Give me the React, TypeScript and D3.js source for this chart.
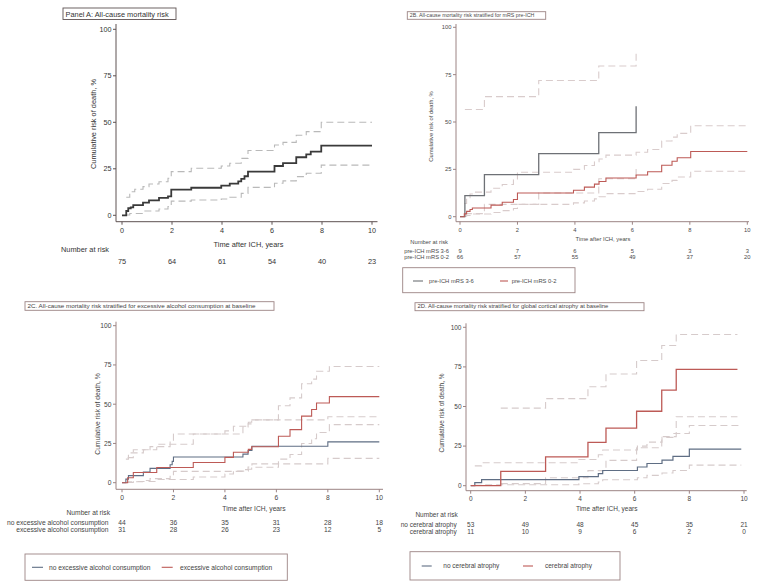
import React from 'react';
import * as d3 from 'd3';

type Pt = [number, number];

const xTicks = [0, 2, 4, 6, 8, 10];
const yTicks = [0, 25, 50, 75, 100];
const riskTimes = [0, 2, 4, 6, 8, 10];

// ---------- Panel A ----------
const titleA = 'Panel A: All-cause mortality risk';
const aMain: Pt[] = [[0, 0], [0.17, 2.3], [0.25, 3.8], [0.35, 4.3], [0.45, 5.5], [0.84, 6.8], [1.08, 8.0], [1.48, 9.4], [1.84, 10.2], [1.97, 13.8], [2.77, 14.8], [3.97, 16.0], [4.31, 17.0], [4.65, 18.2], [4.77, 19.6], [4.9, 21.0], [5.04, 23.5], [6.1, 26.5], [6.44, 28.0], [6.97, 31.2], [7.37, 32.8], [7.55, 34.2], [7.97, 37.5], [10, 37.5]];
const aUpper: Pt[] = [[0.17, 9.7], [0.31, 12.7], [0.51, 14.0], [0.84, 15.4], [1.08, 16.8], [1.48, 18.0], [1.84, 19.9], [1.97, 23.5], [2.77, 25.3], [3.97, 26.5], [4.31, 28.0], [4.77, 30.6], [5.04, 34.8], [6.1, 37.8], [6.44, 39.2], [6.97, 43.0], [7.37, 45.0], [7.97, 50.0], [10, 50.0]];
const aLower: Pt[] = [[0.17, 0.2], [0.31, 1.0], [0.84, 2.3], [1.48, 3.4], [1.84, 4.7], [1.97, 7.6], [2.77, 8.2], [3.97, 8.8], [4.31, 9.7], [4.77, 11.8], [5.04, 15.0], [6.1, 17.2], [6.44, 18.5], [6.97, 20.8], [7.37, 22.6], [7.97, 27.0], [10, 27.0]];
const aRiskLabels = [''];
const aRisk = [[75, 64, 61, 54, 40, 23]];

// ---------- Panel B ----------
const titleB = '2B. All-cause mortality risk stratified for mRS pre-ICH';
const bLabels = ['pre-ICH mRS 3-6', 'pre-ICH mRS 0-2'];
const bHigh: Pt[] = [[0, 0], [0.17, 11.1], [0.85, 22.2], [2.74, 33.3], [4.83, 44.4], [6.13, 58.3]];
const bHighUpper: Pt[] = [[0.17, 56.6], [0.85, 63.4], [2.74, 71.9], [4.83, 79.6], [6.13, 87.5]];
const bHighLower: Pt[] = [[0.17, 1.6], [0.85, 6.5], [2.74, 12.5], [4.83, 20.0], [6.13, 27.0]];
const bLow: Pt[] = [[0, 0], [0.15, 1.5], [0.23, 2.8], [0.35, 3.8], [0.43, 4.6], [1.08, 6.1], [1.47, 7.6], [1.86, 9.1], [2.0, 12.5], [3.95, 14.0], [4.33, 15.6], [4.68, 17.2], [4.84, 18.6], [5.08, 20.4], [6.13, 22.0], [6.53, 23.7], [7.02, 27.2], [7.38, 29.3], [7.56, 31.1], [8.03, 34.4], [10, 34.4]];
const bLowUpper: Pt[] = [[0.15, 7.0], [0.23, 10.0], [0.35, 12.0], [0.43, 13.0], [1.08, 15.0], [1.47, 17.0], [1.86, 19.5], [2.0, 23.5], [3.95, 25.0], [4.33, 27.0], [4.68, 29.0], [4.84, 30.5], [5.08, 32.5], [6.13, 34.0], [6.53, 35.5], [7.02, 40.0], [7.38, 42.0], [7.56, 44.0], [8.03, 48.0], [10, 48.0]];
const bLowLower: Pt[] = [[0.15, 0.2], [0.23, 0.6], [0.35, 1.0], [0.43, 1.4], [1.08, 2.2], [1.47, 3.2], [1.86, 4.3], [2.0, 6.5], [3.95, 7.3], [4.33, 8.3], [4.68, 9.4], [4.84, 10.5], [5.08, 12.2], [6.13, 13.3], [6.53, 14.5], [7.02, 17.5], [7.38, 19.2], [7.56, 21.0], [8.03, 24.0], [10, 24.0]];
const bRisk = [[9, 7, 6, 5, 3, 3], [66, 57, 55, 49, 37, 20]];

// ---------- Panel C ----------
const titleC = '2C. All-cause mortality risk stratified for excessive alcohol consumption at baseline';
const cLabels = ['no excessive alcohol consumption', 'excessive alcohol consumption'];
const cNo: Pt[] = [[0, 0], [0.15, 2.3], [0.25, 4.5], [0.83, 6.8], [1.09, 9.1], [1.87, 11.4], [1.95, 13.6], [2.0, 16.4], [4.7, 18.2], [4.9, 20.5], [5.05, 23.2], [8.0, 26.0], [10, 26.0]];
const cNoUpper: Pt[] = [[0.15, 15.0], [0.25, 19.0], [0.83, 21.0], [1.09, 23.0], [1.87, 26.5], [2.0, 31.0], [4.7, 35.5], [4.9, 37.5], [5.05, 40.0], [8.0, 42.0], [10, 42.0]];
const cNoLower: Pt[] = [[0.15, 0.1], [0.25, 0.6], [0.83, 1.4], [1.09, 2.6], [1.87, 4.0], [2.0, 7.2], [4.7, 8.3], [4.9, 10.0], [5.05, 12.0], [8.0, 15.5], [10, 15.5]];
const cYes: Pt[] = [[0, 0], [0.22, 3.2], [0.44, 6.5], [1.35, 9.7], [2.77, 12.9], [4.0, 16.1], [4.33, 19.4], [4.91, 21.2], [5.04, 22.9], [6.08, 29.6], [6.53, 33.8], [6.98, 42.4], [7.37, 46.6], [7.56, 50.8], [8.06, 54.8], [10, 54.8]];
const cYesUpper: Pt[] = [[0.22, 16.0], [0.44, 21.0], [1.35, 24.5], [2.77, 31.0], [4.0, 33.0], [4.33, 36.0], [4.91, 38.5], [5.04, 40.0], [6.08, 49.0], [6.53, 54.0], [6.98, 63.0], [7.37, 66.0], [7.56, 71.0], [8.06, 74.0], [10, 74.0]];
const cYesLower: Pt[] = [[0.22, 0.1], [0.44, 0.8], [1.35, 2.0], [2.77, 3.6], [4.0, 5.5], [4.33, 7.4], [4.91, 8.6], [5.04, 9.8], [6.08, 15.0], [6.53, 18.0], [6.98, 25.0], [7.37, 28.0], [7.56, 32.0], [8.06, 37.0], [10, 37.0]];
const cRisk = [[44, 36, 35, 31, 28, 18], [31, 28, 26, 23, 12, 5]];

// ---------- Panel D ----------
const titleD = '2D. All-cause mortality risk stratified for global cortical atrophy at baseline';
const dLabels = ['no cerebral atrophy', 'cerebral atrophy'];
const dNo: Pt[] = [[0, 0], [0.15, 1.9], [0.4, 3.8], [3.96, 5.7], [4.67, 7.6], [4.83, 9.6], [6.1, 11.8], [6.45, 14.0], [7.0, 16.2], [7.4, 18.5], [8.0, 23.1], [9.9, 23.1]];
const dNoUpper: Pt[] = [[0.15, 12.5], [0.4, 14.5], [3.96, 16.5], [4.67, 19.5], [4.83, 22.5], [6.1, 25.0], [6.45, 27.5], [7.0, 30.5], [7.4, 33.0], [8.0, 38.0], [9.9, 38.0]];
const dNoLower: Pt[] = [[0.15, 0.2], [0.4, 0.6], [3.96, 1.2], [4.67, 2.3], [4.83, 3.8], [6.1, 5.0], [6.45, 6.5], [7.0, 8.0], [7.4, 9.6], [8.0, 13.0], [9.9, 13.0]];
const dYes: Pt[] = [[0, 0], [1.1, 9.1], [2.74, 18.2], [4.29, 27.3], [4.95, 36.4], [6.07, 47.0], [6.99, 60.3], [7.52, 73.5], [9.76, 73.5]];
const dYesUpper: Pt[] = [[1.1, 49.0], [2.74, 55.0], [4.29, 62.5], [4.95, 70.5], [6.07, 79.0], [6.99, 88.5], [7.52, 95.5], [9.76, 95.5]];
const dYesLower: Pt[] = [[1.1, 1.3], [2.74, 5.0], [4.29, 9.5], [4.95, 16.0], [6.07, 24.0], [6.99, 31.0], [7.52, 43.5], [9.76, 43.5]];
const dRisk = [[53, 49, 48, 45, 35, 21], [11, 10, 9, 6, 2, 0]];

const yTitle = 'Cumulative risk of death, %';
const xTitle = 'Time after ICH, years';
const riskHead = 'Number at risk';

const FONT = '"Liberation Sans", Arial, sans-serif';

interface Series { main: Pt[]; upper: Pt[]; lower: Pt[]; color: string; width: number; }
interface LegendItem { x1: number; x2: number; tx: number; label: string; color: string; }
interface PanelCfg {
  x0: number; x10: number; y0: number; y100: number;
  axX: number; axTop: number; axY: number; axRight: number;
  fs: number; tickFs: number; titleFs: number;
  axisColor: string; textColor: string; ciColor: string;
  title: string; tBox: [number, number, number, number];
  yTitleX: number; yTitleY: number; xTitleX: number; xTitleY: number;
  headX: number; headY: number; headAnchor: 'start' | 'end';
  rowYs: number[]; rowLabelX: number; rowLabels: string[]; risk: number[][];
  series: Series[];
  legend?: { box: [number, number, number, number]; y: number; items: LegendItem[] };
}

const Panel: React.FC<{ c: PanelCfg }> = ({ c }) => {
  const xs = d3.scaleLinear().domain([0, 10]).range([c.x0, c.x10]);
  const ys = d3.scaleLinear().domain([0, 100]).range([c.y0, c.y100]);
  const line = d3.line<Pt>().x(d => xs(d[0])).y(d => ys(d[1])).curve(d3.curveStepAfter);
  return (
    <g fontFamily={FONT}>
      <rect x={c.tBox[0]} y={c.tBox[1]} width={c.tBox[2]} height={c.tBox[3]} fill="white" stroke={c.axisColor} strokeWidth={0.9} />
      <text x={c.tBox[0] + 2.5} y={c.tBox[1] + c.tBox[3] - 2.6} fontSize={c.titleFs} fill={c.textColor}>{c.title}</text>
      {/* CIs */}
      {c.series.map((s, i) => (
        <g key={'ci' + i} fill="none" stroke={c.ciColor} strokeWidth={1.1} strokeDasharray="7,4">
          <path d={line(s.upper) || ''} />
          <path d={line(s.lower) || ''} />
        </g>
      ))}
      {c.series.map((s, i) => (
        <path key={'m' + i} d={line(s.main) || ''} fill="none" stroke={s.color} strokeWidth={s.width} />
      ))}
      {/* axes */}
      <line x1={c.axX} x2={c.axX} y1={c.axTop} y2={c.axY} stroke={c.axisColor} strokeWidth={1} />
      <line x1={c.axX} x2={c.axRight} y1={c.axY} y2={c.axY} stroke={c.axisColor} strokeWidth={1} />
      {yTicks.map(t => (
        <g key={'yt' + t}>
          <line x1={c.axX - 3} x2={c.axX} y1={ys(t)} y2={ys(t)} stroke={c.axisColor} />
          <text x={c.axX - 4.5} y={ys(t) + c.tickFs * 0.35} textAnchor="end" fontSize={c.tickFs} fill={c.textColor}>{t}</text>
        </g>
      ))}
      {xTicks.map(t => (
        <g key={'xt' + t}>
          <line x1={xs(t)} x2={xs(t)} y1={c.axY} y2={c.axY + 3} stroke={c.axisColor} />
          <text x={xs(t)} y={c.axY + 4 + c.tickFs} textAnchor="middle" fontSize={c.tickFs} fill={c.textColor}>{t}</text>
        </g>
      ))}
      <text transform={`translate(${c.yTitleX},${c.yTitleY}) rotate(-90)`} textAnchor="middle" fontSize={c.fs} fill={c.textColor}>{yTitle}</text>
      <text x={c.xTitleX} y={c.xTitleY} textAnchor="middle" fontSize={c.fs} fill={c.textColor}>{xTitle}</text>
      <text x={c.headX} y={c.headY} textAnchor={c.headAnchor} fontSize={c.fs} fill={c.textColor}>{riskHead}</text>
      {c.risk.map((row, ri) => (
        <g key={'r' + ri}>
          {c.rowLabels[ri] ? <text x={c.rowLabelX} y={c.rowYs[ri]} textAnchor="end" fontSize={c.fs} fill={c.textColor}>{c.rowLabels[ri]}</text> : null}
          {row.map((v, k) => (
            <text key={k} x={xs(riskTimes[k])} y={c.rowYs[ri]} textAnchor="middle" fontSize={c.fs} fill={c.textColor}>{v}</text>
          ))}
        </g>
      ))}
      {c.legend ? (
        <g>
          <rect x={c.legend.box[0]} y={c.legend.box[1]} width={c.legend.box[2]} height={c.legend.box[3]} fill="white" stroke={c.axisColor} strokeWidth={0.9} />
          {c.legend.items.map((it, i) => (
            <g key={'l' + i}>
              <line x1={it.x1} x2={it.x2} y1={c.legend!.y} y2={c.legend!.y} stroke={it.color} strokeWidth={1.1} />
              <text x={it.tx} y={c.legend!.y + c.fs * 0.35} fontSize={c.fs} fill={c.textColor}>{it.label}</text>
            </g>
          ))}
        </g>
      ) : null}
    </g>
  );
};

const RED = '#bd5a56';
const BLUE = '#5f6e84';

const panelA: PanelCfg = {
  x0: 122, x10: 372, y0: 215.3, y100: 29.3,
  axX: 116, axTop: 24, axY: 221.7, axRight: 377.5,
  fs: 7.4, tickFs: 7.2, titleFs: 7.4,
  axisColor: '#5e5252', textColor: '#333', ciColor: '#b9b9b9',
  title: titleA, tBox: [63, 8, 113, 11.5],
  yTitleX: 95.5, yTitleY: 124, xTitleX: 248.5, xTitleY: 247,
  headX: 61, headY: 251.5, headAnchor: 'start',
  rowYs: [263.5], rowLabelX: 0, rowLabels: aRiskLabels, risk: aRisk,
  series: [{ main: aMain, upper: aUpper, lower: aLower, color: '#3a3a3a', width: 1.8 }],
};

const panelB: PanelCfg = {
  x0: 460, x10: 747.3, y0: 216.7, y100: 27.3,
  axX: 456, axTop: 24, axY: 221.7, axRight: 749,
  fs: 5.8, tickFs: 5.8, titleFs: 5.3,
  axisColor: '#9c8484', textColor: '#4a4a4a', ciColor: '#d9cccc',
  title: titleB, tBox: [407.3, 11.7, 138.4, 7.6],
  yTitleX: 433, yTitleY: 126.5, xTitleX: 603, xTitleY: 241,
  headX: 448, headY: 244, headAnchor: 'end',
  rowYs: [252.5, 258.5], rowLabelX: 449, rowLabels: bLabels, risk: bRisk,
  series: [
    { main: bHigh, upper: bHighUpper, lower: bHighLower, color: '#6e7176', width: 1.3 },
    { main: bLow, upper: bLowUpper, lower: bLowLower, color: RED, width: 1.1 },
  ],
  legend: {
    box: [402.7, 267.7, 172.3, 25], y: 281,
    items: [
      { x1: 413, x2: 423, tx: 429, label: bLabels[0], color: '#6e7176' },
      { x1: 500, x2: 508, tx: 511.7, label: bLabels[1], color: RED },
    ],
  },
};

const panelC: PanelCfg = {
  x0: 122, x10: 379.3, y0: 482.7, y100: 325.7,
  axX: 116, axTop: 321.7, axY: 489.3, axRight: 383,
  fs: 6.7, tickFs: 6.7, titleFs: 6.25,
  axisColor: '#9c8484', textColor: '#444', ciColor: '#d6cbcb',
  title: titleC, tBox: [25, 301.7, 249, 8.6],
  yTitleX: 99.8, yTitleY: 414, xTitleX: 254, xTitleY: 511,
  headX: 110, headY: 514.5, headAnchor: 'end',
  rowYs: [524.5, 532.2], rowLabelX: 108.5, rowLabels: cLabels, risk: cRisk,
  series: [
    { main: cNo, upper: cNoUpper, lower: cNoLower, color: BLUE, width: 1.1 },
    { main: cYes, upper: cYesUpper, lower: cYesLower, color: RED, width: 1.1 },
  ],
  legend: {
    box: [25, 554, 262.3, 26.3], y: 567.3,
    items: [
      { x1: 32, x2: 43, tx: 49, label: cLabels[0], color: BLUE },
      { x1: 161.7, x2: 172.7, tx: 180, label: cLabels[1], color: RED },
    ],
  },
};

const panelD: PanelCfg = {
  x0: 470.7, x10: 744, y0: 485.7, y100: 327.3,
  axX: 466, axTop: 323.3, axY: 490.7, axRight: 746.7,
  fs: 6.5, tickFs: 6.5, titleFs: 5.9,
  axisColor: '#9c8484', textColor: '#444', ciColor: '#d6cbcb',
  title: titleD, tBox: [415, 302.7, 229, 8],
  yTitleX: 444.3, yTitleY: 413, xTitleX: 606.7, xTitleY: 511,
  headX: 457.7, headY: 517, headAnchor: 'end',
  rowYs: [526.5, 534.3], rowLabelX: 456.7, rowLabels: dLabels, risk: dRisk,
  series: [
    { main: dNo, upper: dNoUpper, lower: dNoLower, color: BLUE, width: 1.2 },
    { main: dYes, upper: dYesUpper, lower: dYesLower, color: RED, width: 1.3 },
  ],
  legend: {
    box: [410, 551.7, 210, 28.3], y: 566,
    items: [
      { x1: 421.7, x2: 431.7, tx: 443.3, label: dLabels[0], color: BLUE },
      { x1: 523, x2: 533, tx: 545, label: dLabels[1], color: RED },
    ],
  },
};

export default function App() {
  return (
    <svg width={760} height={588} style={{ position: 'absolute', left: 0, top: 0, background: 'white' }}>
      <rect x={0} y={0} width={760} height={588} fill="white" />
      <Panel c={panelA} />
      <Panel c={panelB} />
      <Panel c={panelC} />
      <Panel c={panelD} />
    </svg>
  );
}
